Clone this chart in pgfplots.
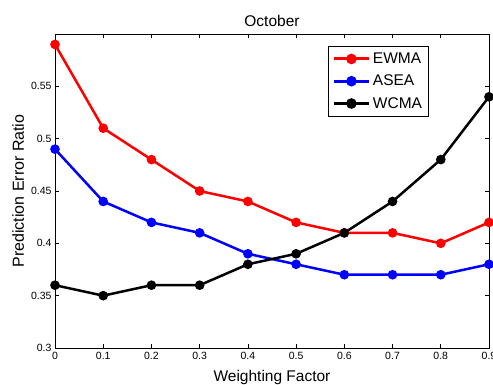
\documentclass[border=0pt]{standalone}
\usepackage{pgfplots}
\pgfplotsset{compat=1.18}
\usepackage{fontspec}
\setmainfont{Liberation Sans}
\begin{document}
\begin{tikzpicture}
\begin{axis}[
  width=434pt, height=314pt, scale only axis,
  xmin=0, xmax=0.9, ymin=0.3, ymax=0.6,
  xtick={0,0.1,...,0.9},
  xticklabels={0,0.1,0.2,0.3,0.4,0.5,0.6,0.7,0.8,0.9},
  ytick={0.3,0.35,0.4,0.45,0.5,0.55},
  yticklabels={0.3,0.35,0.4,0.45,0.5,0.55},
  tick align=inside, major tick length=4pt,
  tick style={black, line width=0.6pt},
  axis line style={line width=0.9pt},
  ticklabel style={font=\fontsize{10.5}{12}\selectfont},
  xticklabel style={yshift=-1pt},
  title={October},
  title style={font=\fontsize{15.5}{18}\selectfont, at={(axis description cs:0.5,1)}, anchor=base, yshift=1.5pt},
  xlabel={Weighting Factor},
  xlabel style={font=\fontsize{15.5}{18}\selectfont, at={(axis description cs:0.5,0)}, anchor=base, yshift=-34pt},
  ylabel={Prediction Error Ratio},
  every axis y label/.style={font=\fontsize{16}{18}\selectfont, at={(axis description cs:0,0.5)}, anchor=base, xshift=-31pt, rotate=90},
  legend style={at={(axis description cs:0.629,0.962)}, anchor=north west, font=\fontsize{15.5}{18}\selectfont, draw=black, line width=0.9pt, inner ysep=4pt, inner xsep=4pt, row sep=5pt, nodes={inner sep=2.5pt}},
  legend cell align=left,
  legend image code/.code={\draw[#1, line width=3pt] (0pt,0pt) -- (35pt,0pt); \fill[#1] (17.5pt,0pt) circle (4pt);},
]
\addplot[red, line width=2.5pt, mark=*, mark size=3.5pt, mark options={fill=red}] coordinates {
(0,0.59) (0.1,0.51) (0.2,0.48) (0.3,0.45) (0.4,0.44) (0.5,0.42) (0.6,0.41) (0.7,0.41) (0.8,0.40) (0.9,0.42)};
\addlegendentry{EWMA}
\addplot[blue, line width=2.5pt, mark=*, mark size=3.5pt, mark options={fill=blue}] coordinates {
(0,0.49) (0.1,0.44) (0.2,0.42) (0.3,0.41) (0.4,0.39) (0.5,0.38) (0.6,0.37) (0.7,0.37) (0.8,0.37) (0.9,0.38)};
\addlegendentry{ASEA}
\addplot[black, line width=2.5pt, mark=*, mark size=3.5pt, mark options={fill=black}] coordinates {
(0,0.36) (0.1,0.35) (0.2,0.36) (0.3,0.36) (0.4,0.38) (0.5,0.39) (0.6,0.41) (0.7,0.44) (0.8,0.48) (0.9,0.54)};
\addlegendentry{WCMA}
\end{axis}
\pgfresetboundingbox
\path[use as bounding box] (-55pt,-37pt) rectangle (438pt,348pt);
\end{tikzpicture}
\end{document}
